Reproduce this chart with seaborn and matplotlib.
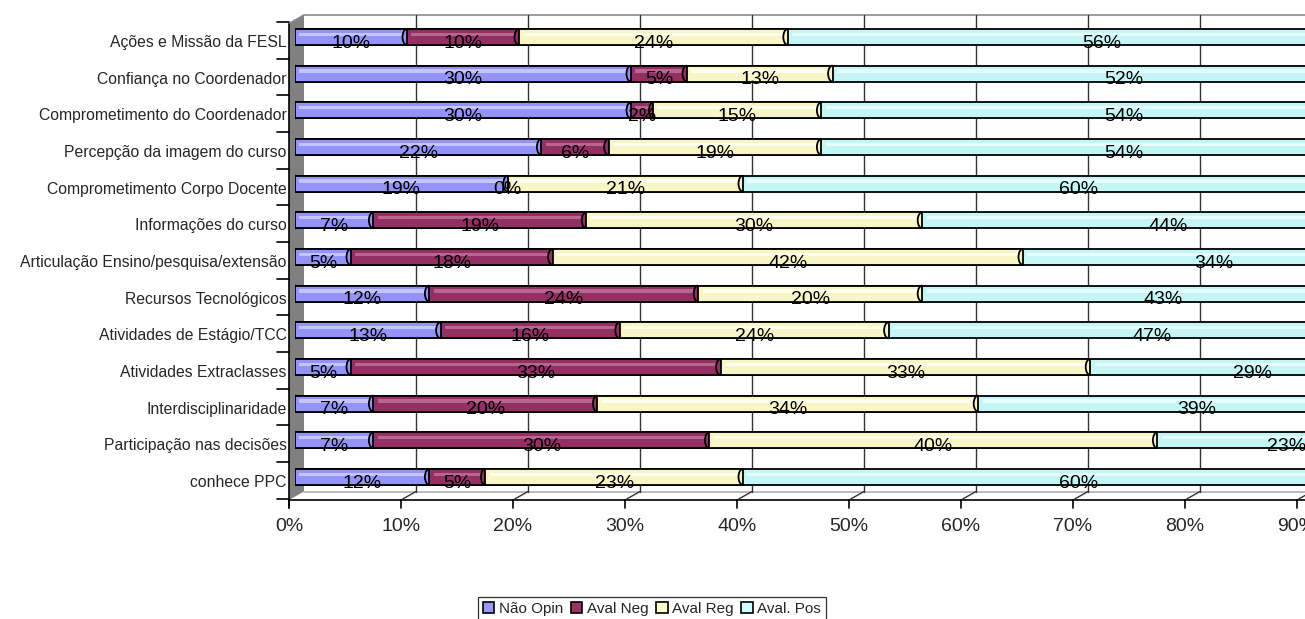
import numpy as np
import pandas as pd
import matplotlib
matplotlib.use('Agg')
import matplotlib.pyplot as plt
import matplotlib.transforms as mtransforms
from matplotlib.patches import Polygon, Patch, Ellipse, Arc
import seaborn as sns

sns.set_style("white")
plt.rcParams['font.family'] = ['Liberation Sans', 'DejaVu Sans']

# ── dados ──────────────────────────────────────────────
categorias = [
    'Ações e Missão da FESL',
    'Confiança no Coordenador',
    'Comprometimento do Coordenador',
    'Percepção da imagem do curso',
    'Comprometimento Corpo Docente',
    'Informações do curso',
    'Articulação Ensino/pesquisa/extensão',
    'Recursos Tecnológicos',
    'Atividades de Estágio/TCC',
    'Atividades Extraclasses',
    'Interdisciplinaridade',
    'Participação nas decisões',
    'conhece PPC',
]
nao_opin = [10, 30, 30, 22, 19, 7, 5, 12, 13, 5, 7, 7, 12]
aval_neg = [10, 5, 2, 6, 0, 19, 18, 24, 16, 33, 20, 30, 5]
aval_reg = [24, 13, 15, 19, 21, 30, 42, 20, 24, 33, 34, 40, 23]
aval_pos = [56, 52, 54, 54, 60, 44, 34, 43, 47, 29, 39, 23, 60]

series = ['Não Opin', 'Aval Neg', 'Aval Reg', 'Aval. Pos']
cores = ['#9494F8', '#932F62', '#F8F6C6', '#C4F6F6']
cores_leg = ['#9999FF', '#993366', '#FFFFCC', '#CCFFFF']
brilho = ['#C4C4FF', '#B86690', '#FFFFEE', '#E8FFFF']
x_ticks = [0, 10, 20, 30, 40, 50, 60, 70, 80, 90]

vals = np.array([nao_opin, aval_neg, aval_reg, aval_pos]) / 100.0
cum = np.cumsum(vals, axis=0)
starts = cum - vals
df = pd.DataFrame({'categoria': categorias})
for i, s in enumerate(series):
    df[s] = cum[i]

# ── figura ─────────────────────────────────────────────
W, H = 1305, 619
fig = plt.figure(figsize=(W / 100, H / 100), dpi=100)

bg = fig.add_axes([0, 0, 1, 1], zorder=0)
bg.set_xlim(0, W)
bg.set_ylim(H, 0)
bg.axis('off')

ax = fig.add_axes([295 / W, (H - 500) / H, (W - 295) / W, (500 - 15) / H], zorder=1)
ax.set_facecolor('none')

bar_h = 0.436
# barras empilhadas: desenhar do acumulado maior para o menor
for i in range(3, -1, -1):
    sns.barplot(data=df, x=series[i], y='categoria', orient='h', color=cores[i],
                saturation=1, width=bar_h, edgecolor='black', linewidth=1.3, ax=ax)

ypos = np.arange(len(categorias))
eps = 0.004
for i in range(4):
    w = np.clip(vals[i] - 2 * eps, 0, None)
    ax.barh(ypos - 0.07, w, left=starts[i] + eps, height=0.09,
            color=brilho[i], linewidth=0, zorder=3)

ax.set_xlim(0, (W - 295) / 1120)
ax.set_ylim(12.63, -0.60)
for sp in ax.spines.values():
    sp.set_visible(False)

# rótulos de valor
for i in range(4):
    for r in range(len(categorias)):
        ax.text(starts[i, r] + vals[i, r] / 2, r + 0.17, f'{int(round(vals[i, r] * 100))}%',
                ha='center', va='center', fontsize=14, color='black', zorder=6, clip_on=False)

# eixos
ax.set_xticks(np.array(x_ticks) / 100)
ax.set_xticklabels([f'{t}%' for t in x_ticks], fontsize=14)
ax.tick_params(axis='x', length=0, pad=13)
ax.set_yticks(ypos)
ax.set_yticklabels(categorias, fontsize=11.3)
ax.tick_params(axis='y', length=0, pad=6)
ax.set_xlabel('')
ax.set_ylabel('')
off_x = mtransforms.ScaledTranslation(-0.06, 0, fig.dpi_scale_trans)
for lb in ax.get_xticklabels():
    lb.set_transform(lb.get_transform() + off_x)
off_y = mtransforms.ScaledTranslation(0, -0.04, fig.dpi_scale_trans)
for lb in ax.get_yticklabels():
    lb.set_transform(lb.get_transform() + off_y)

# ── moldura 3D (parede, chão, grade) ───────────────────
def px(v):
    return ax.transData.transform((v, 0))[0]

def py(r):
    return H - ax.transData.transform((0, r))[1]

# tampas arredondadas dos cilindros
cap_w = 9
cap_h = bar_h * (py(1) - py(0))
for r in range(len(categorias)):
    ax.add_patch(Ellipse((px(0), py(r)), cap_w, cap_h, facecolor=cores[0], edgecolor='black',
                         linewidth=1.3, transform=bg.transData, zorder=0.9))
    for i in range(1, 4):
        if vals[i, r] > 0:
            ax.add_patch(Arc((px(starts[i, r]), py(r)), cap_w, cap_h, theta1=90, theta2=270,
                             edgecolor='black', linewidth=1.3, transform=bg.transData, zorder=4))

dx, dy = 15, 8.5
x0 = px(0) - 6
y_top, y_front = 15, 500
bg.add_patch(Polygon([(x0, y_top + dy), (x0 + dx, y_top), (x0 + dx, y_front - dy), (x0, y_front)],
                     closed=True, facecolor='#808080', edgecolor='none'))
bg.plot([x0 + dx, W], [y_top, y_top], color='#8c8c8c', lw=1.2)
bg.plot([x0, x0 + dx], [y_top + dy, y_top], color='#8c8c8c', lw=1.2)
bg.plot([x0 + dx, W], [y_front - dy, y_front - dy], color='#b0b0b0', lw=1.2)
bg.plot([x0, W], [y_front, y_front], color='black', lw=1.2)
bg.plot([x0, x0], [y_top + dy, y_front + 8], color='black', lw=1.2)
for t in x_ticks:
    xf = px(t / 100) - 6
    if t > 0:
        bg.plot([xf + dx, xf + dx], [y_top, y_front - dy], color='#333333', lw=1)
        bg.plot([xf, xf + dx], [y_front, y_front - dy], color='#333333', lw=1)
    bg.plot([xf, xf], [y_front, y_front + 8], color='black', lw=1.2)
for r in range(len(categorias) + 1):
    yb = py(r - 0.5) + 3.5
    bg.plot([x0 - 12, x0], [yb, yb], color='black', lw=1.2)

# legenda
handles = [Patch(facecolor=c, edgecolor='black', linewidth=1.2) for c in cores_leg]
leg = fig.legend(handles, series, loc='upper center', bbox_to_anchor=(652 / W, (H - 597) / H),
                 ncol=4, frameon=True, fancybox=False, edgecolor='black', fontsize=11,
                 handlelength=0.75, handleheight=0.75, handletextpad=0.3,
                 columnspacing=0.5, borderpad=0.3, borderaxespad=0)
leg.get_frame().set_linewidth(0.9)

plt.savefig('out.png', dpi=100)
plt.close()
